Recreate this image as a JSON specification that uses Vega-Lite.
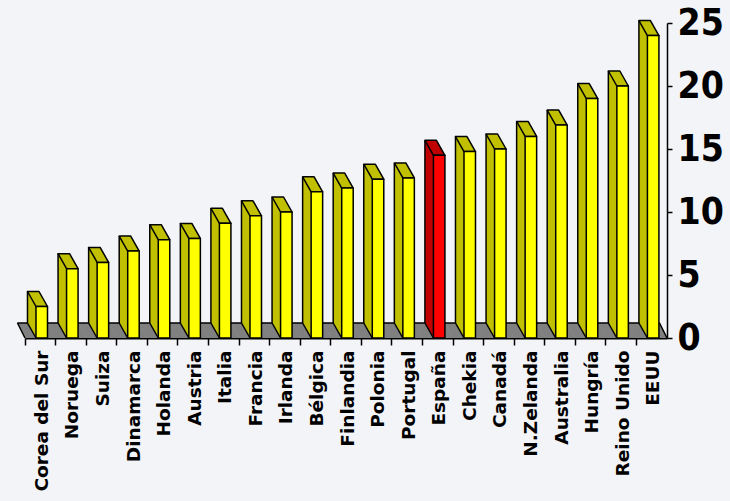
{
  "$schema": "https://vega.github.io/schema/vega-lite/v6.json",
  "width": 642,
  "height": 315,
  "autosize": {"type": "none"},
  "padding": {"left": 25, "top": 23, "right": 63, "bottom": 163},
  "background": "#f3f4f7",
  "config": {
    "view": {"stroke": null},
    "axisY": {
      "grid": false,
      "labelFont": "Liberation Sans Narrow, DejaVu Sans Condensed, sans-serif",
      "labelFontWeight": "bold",
      "labelFontSize": 37,
      "labelColor": "#000000",
      "labelPadding": 5,
      "labelBaseline": "middle",
      "domainColor": "#000000",
      "domainWidth": 1.5,
      "tickColor": "#000000",
      "tickWidth": 1.5,
      "tickSize": 5
    },
    "axisX": {
      "bandPosition": 0,
      "labelOffset": 1.5,
      "labelAngle": -90,
      "labelFont": "DejaVu Sans",
      "labelFontWeight": "bold",
      "labelFontSize": 18.5,
      "labelColor": "#000000",
      "labelPadding": 5,
      "labelOverlap": false,
      "labelBound": false,
      "labelFlush": false,
      "domainColor": "#000000",
      "domainWidth": 2,
      "tickColor": "#000000",
      "tickWidth": 1.5,
      "tickSize": 7
    }
  },
  "data": {
    "values": [
      {"pais": "Corea del Sur", "valor": 2.5},
      {"pais": "Noruega", "valor": 5.5},
      {"pais": "Suiza", "valor": 6.0},
      {"pais": "Dinamarca", "valor": 6.9},
      {"pais": "Holanda", "valor": 7.8},
      {"pais": "Austria", "valor": 7.9},
      {"pais": "Italia", "valor": 9.1},
      {"pais": "Francia", "valor": 9.7},
      {"pais": "Irlanda", "valor": 10.0},
      {"pais": "Bélgica", "valor": 11.6},
      {"pais": "Finlandia", "valor": 11.9},
      {"pais": "Polonia", "valor": 12.6},
      {"pais": "Portugal", "valor": 12.7},
      {"pais": "España", "valor": 14.5},
      {"pais": "Chekia", "valor": 14.8},
      {"pais": "Canadá", "valor": 15.0},
      {"pais": "N.Zelanda", "valor": 16.0},
      {"pais": "Australia", "valor": 16.9},
      {"pais": "Hungría", "valor": 19.0},
      {"pais": "Reino Unido", "valor": 20.0},
      {"pais": "EEUU", "valor": 24.0}
    ]
  },
  "encoding": {
    "x": {
      "field": "pais",
      "type": "nominal",
      "sort": null,
      "scale": {"paddingInner": 0, "paddingOuter": 0},
      "axis": {"title": null}
    },
    "y": {
      "field": "valor",
      "type": "quantitative",
      "scale": {"domain": [0, 25], "nice": false},
      "axis": {"title": null, "orient": "right", "values": [0, 5, 10, 15, 20, 25]}
    }
  },
  "layer": [
    {
      "mark": {"type": "point", "shape": "M -15.5 0 L 15.5 0 L 8 -15 L -23 -15 Z", "size": 4, "filled": true, "opacity": 1, "fill": "#808080", "strokeWidth": 0},
      "encoding": {"y": {"datum": 0, "type": "quantitative", "axis": {"title": null, "orient": "right", "values": [0, 5, 10, 15, 20, 25]}}}
    },
    {
      "mark": {"type": "point", "shape": "M -23 -15 L 8 -15", "size": 4, "filled": false, "opacity": 1, "stroke": "#000000", "strokeWidth": 1.5},
      "encoding": {"y": {"datum": 0, "type": "quantitative", "axis": {"title": null, "orient": "right", "values": [0, 5, 10, 15, 20, 25]}}}
    },
    {
      "transform": [{"filter": "datum.pais === 'Corea del Sur' || datum.pais === 'EEUU'"}],
      "mark": {"type": "point", "size": 4, "filled": false, "opacity": 1, "stroke": "#000000", "strokeWidth": 1.5},
      "encoding": {
        "y": {"datum": 0, "type": "quantitative", "axis": {"title": null, "orient": "right", "values": [0, 5, 10, 15, 20, 25]}},
        "shape": {
          "condition": {"test": "datum.pais === 'EEUU'", "value": "M 15.3 0 L 7.8 -15"},
          "value": "M -15.3 0 L -22.8 -15"
        }
      }
    },
    {
      "mark": {"type": "bar", "width": 8.5, "xOffset": -8.55, "y2Offset": -15, "strokeWidth": 0},
      "encoding": {
        "y2": {"datum": 0},
        "fill": {"condition": {"test": "datum.pais === 'España'", "value": "#c00000"}, "value": "#c0c000"}
      }
    },
    {
      "mark": {"type": "point", "shape": "M -12.8 -15 L -4.3 0 L -4.3 1 L -12.8 1 Z", "size": 4, "filled": true, "opacity": 1, "strokeWidth": 0},
      "encoding": {
        "fill": {"condition": {"test": "datum.pais === 'España'", "value": "#c00000"}, "value": "#c0c000"}
      }
    },
    {
      "mark": {"type": "point", "shape": "M -12.8 -16 L -4.3 -16 L -4.3 0 L -12.8 -15 Z", "size": 4, "filled": true, "opacity": 1, "strokeWidth": 0},
      "encoding": {
        "y": {"datum": 0, "type": "quantitative", "axis": {"title": null, "orient": "right", "values": [0, 5, 10, 15, 20, 25]}},
        "fill": {"condition": {"test": "datum.pais === 'España'", "value": "#c00000"}, "value": "#c0c000"}
      }
    },
    {
      "mark": {"type": "rule", "xOffset": -12.8, "yOffset": -15, "y2Offset": -15, "color": "#000000", "strokeWidth": 1.5},
      "encoding": {"y2": {"datum": 0}}
    },
    {
      "mark": {"type": "point", "shape": "M -12.8 -15 L -4.3 0", "size": 4, "filled": false, "opacity": 1, "stroke": "#000000", "strokeWidth": 1.5},
      "encoding": {"y": {"datum": 0, "type": "quantitative", "axis": {"title": null, "orient": "right", "values": [0, 5, 10, 15, 20, 25]}}}
    },
    {
      "mark": {"type": "point", "shape": "M -12.8 -15 L -1.3 -15 L 7.2 0 L -4.3 0 Z", "size": 4, "filled": true, "opacity": 1, "stroke": "#000000", "strokeWidth": 1.5, "strokeJoin": "round"},
      "encoding": {
        "fill": {"condition": {"test": "datum.pais === 'España'", "value": "#c00000"}, "value": "#c0c000"}
      }
    },
    {
      "mark": {"type": "bar", "width": 11.5, "xOffset": 1.46, "stroke": "#000000", "strokeWidth": 1.5, "strokeJoin": "round"},
      "encoding": {
        "y2": {"datum": 0},
        "fill": {"condition": {"test": "datum.pais === 'España'", "value": "#ff0000"}, "value": "#ffff00"}
      }
    }
  ]
}
